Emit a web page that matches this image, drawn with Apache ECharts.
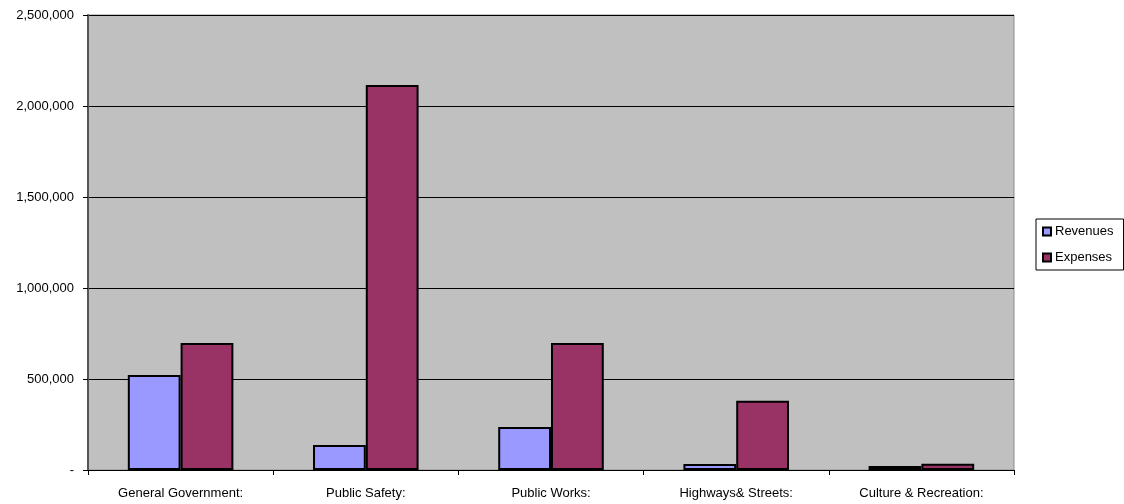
<!DOCTYPE html>
<html>
<head>
<meta charset="utf-8">
<script src="https://cdn.jsdelivr.net/npm/echarts@6/dist/echarts.min.js"></script>
<style>
html,body{margin:0;padding:0;background:#fff;}
#main{width:1124px;height:504px;}
</style>
</head>
<body>
<div id="main"></div>
<script>
// categories and values
var categories = ['General Government:', 'Public Safety:', 'Public Works:', 'Highways& Streets:', 'Culture & Recreation:'];
var revenues = [522000, 137000, 236000, 33000, 22000];
var expenses = [698000, 2115000, 698000, 380000, 35000];

var myChart = echarts.init(document.getElementById('main'));
var font = 'Liberation Sans, Arial, sans-serif';

var option = {
	backgroundColor: '#ffffff',
	animation: false,
	textStyle: { fontFamily: font },
	grid: {
		left: 88,
		right: 110,
		top: 15,
		bottom: 34,
		show: true,
		backgroundColor: '#c0c0c0',
		borderColor: '#8c8c8c',
		borderWidth: 1
	},
	legend: {
		orient: 'vertical',
		left: 1036,
		top: 219,
		data: ['Revenues', 'Expenses'],
		itemWidth: 8,
		itemHeight: 8,
		itemGap: 13,
		borderColor: '#000',
		borderWidth: 1,
		padding: [6, 10, 6, 6],
		borderRadius: 0,
		icon: 'rect',
		textStyle: { fontSize: 13, color: '#000', fontFamily: font, padding: [0, 0, 0, -1] }
	},
	xAxis: {
		type: 'category',
		data: categories,
		axisLine: { lineStyle: { color: '#000', width: 1 } },
		axisTick: { show: true, length: 5, lineStyle: { color: '#000' } },
		axisLabel: { color: '#000', fontSize: 13, margin: 17, fontFamily: font, interval: 0 },
		splitLine: { show: false }
	},
	yAxis: {
		type: 'value',
		min: 0,
		max: 2500000,
		interval: 500000,
		axisLine: { show: true, lineStyle: { color: '#555', width: 2 } },
		axisTick: { show: true, length: 5, lineStyle: { color: '#000' } },
		axisLabel: {
			color: '#000',
			fontSize: 13,
			margin: 14,
			fontFamily: font,
			formatter: function (v) {
				return v === 0 ? '-' : v.toLocaleString('en-US');
			}
		},
		splitLine: { show: true, lineStyle: { color: '#000', width: 1 } }
	},
	series: [
		{
			name: 'Revenues',
			type: 'bar',
			data: revenues,
			barGap: '0%',
			barCategoryGap: '43%',
			itemStyle: { color: '#9999ff', borderColor: '#000', borderWidth: 2 }
		},
		{
			name: 'Expenses',
			type: 'bar',
			data: expenses,
			itemStyle: { color: '#993366', borderColor: '#000', borderWidth: 2 }
		}
	]
};
myChart.setOption(option);
</script>
</body>
</html>
